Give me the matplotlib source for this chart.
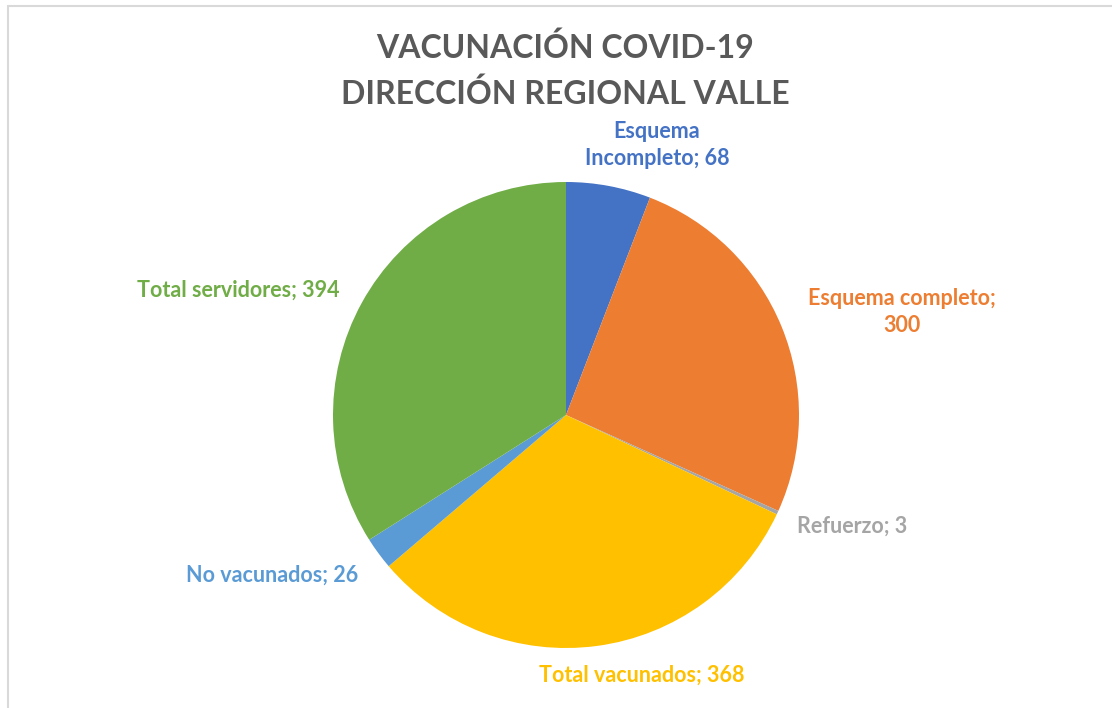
import matplotlib.pyplot as plt
from matplotlib.patches import Rectangle

categorias = ["Esquema Incompleto", "Esquema completo", "Refuerzo", "Total vacunados",
              "No vacunados", "Total servidores"]
valores = [68, 300, 3, 368, 26, 394]
colores = ["#4472C4", "#ED7D31", "#A5A5A5", "#FFC000", "#5B9BD5", "#70AD47"]

W, H = 1112, 708
fig = plt.figure(figsize=(W / 100, H / 100), dpi=100)
ax = fig.add_axes([0, 0, 1, 1])

# borde del grafico
ax.add_patch(Rectangle((8, -10), W + 20, H - 6 + 10, fill=False, edgecolor="#D9D9D9", lw=1.5))

cx, cy, r = 566, H - 415, 233
ax.pie(valores, colors=colores, startangle=90, counterclock=False,
       center=(cx, cy), radius=r, frame=True, wedgeprops=dict(linewidth=0))
ax.set_xlim(0, W)
ax.set_ylim(0, H)
ax.set_aspect("equal")
ax.axis("off")

fuente = "Lato"
# posiciones de las etiquetas (px)
pos = [(657, 145), (902, 312), (852, 526), (642, 675), (272, 575), (238, 290)]
textos = ["Esquema\nIncompleto; 68", "Esquema completo;\n300", "Refuerzo; 3",
          "Total vacunados; 368", "No vacunados; 26", "Total servidores; 394"]
for (x, y), t, c in zip(pos, textos, colores):
    ax.text(x, H - y, t, color=c, fontsize=15.5, fontweight="bold", family=fuente,
            ha="center", va="center", linespacing=1.35)

ax.text(W / 2 + 9, H - 71, "VACUNACIÓN COVID-19\nDIRECCIÓN REGIONAL VALLE", color="#595959",
        fontsize=23, fontweight="bold", family=fuente, ha="center", va="center",
        linespacing=1.6)

fig.savefig("out.png", dpi=100)
